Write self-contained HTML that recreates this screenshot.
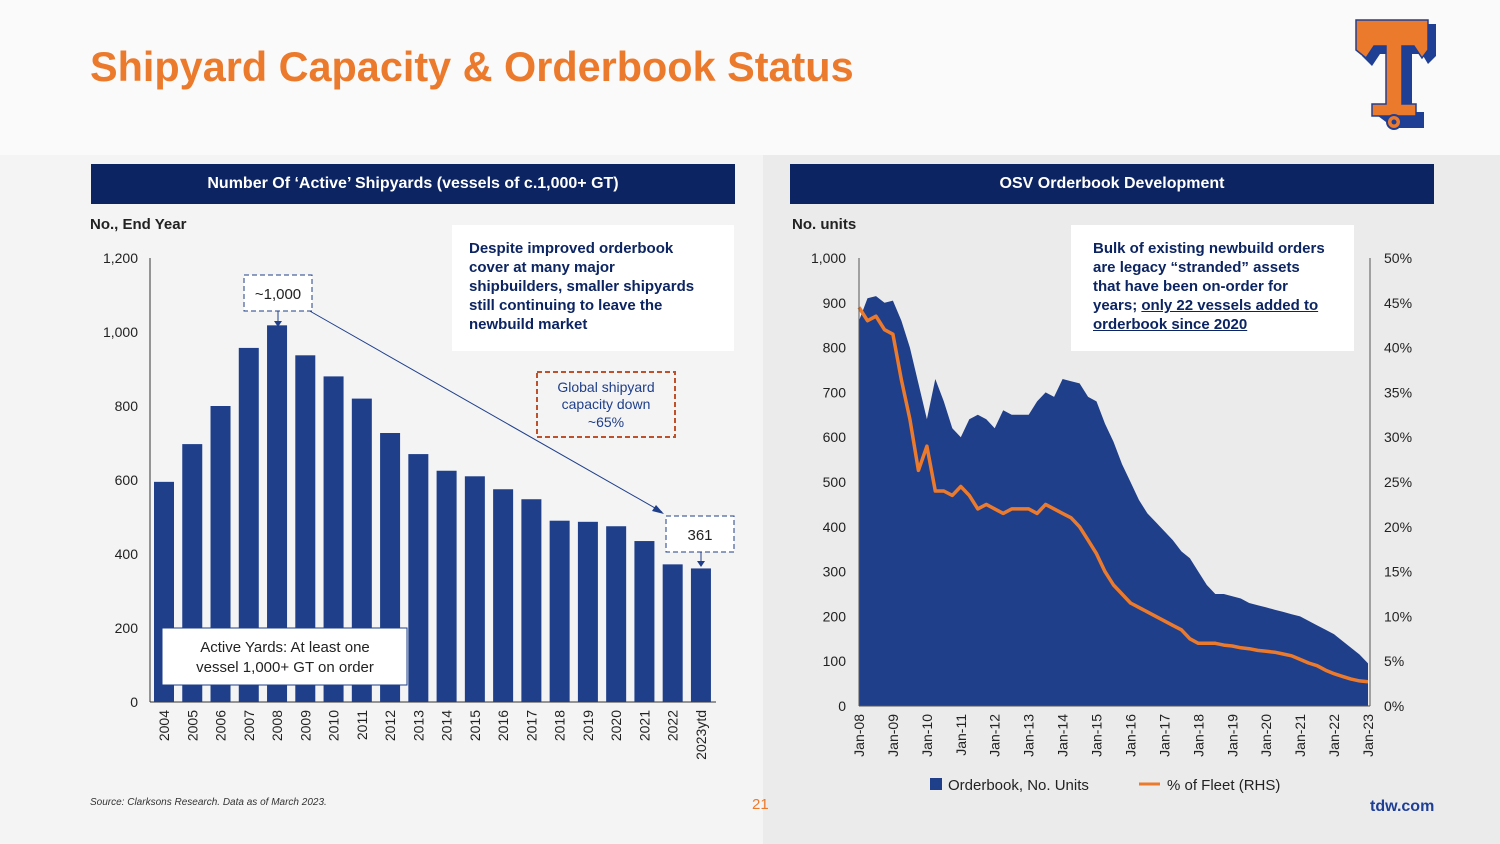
<!DOCTYPE html>
<html><head><meta charset="utf-8"><style>
body{margin:0;width:1500px;height:844px;overflow:hidden;font-family:"Liberation Sans",sans-serif;background:#f4f4f4;position:relative}
.abs{position:absolute}
.hdr{background:#0c2461;color:#fff;font-weight:bold;font-size:16px;text-align:center;line-height:40px;height:40px}
.note{background:#fff;color:#0c2461;font-weight:bold;font-size:15px;line-height:19px;padding:14px 17px;box-sizing:border-box;white-space:nowrap}
</style></head><body>
<div class="abs" style="left:0;top:0;width:1500px;height:155px;background:#fafafa"></div>
<div class="abs" style="left:763px;top:155px;width:737px;height:689px;background:#ebebeb"></div>
<div class="abs" style="left:90px;top:44px;font-size:41.4px;font-weight:bold;color:#ec7a2c">Shipyard Capacity &amp; Orderbook Status</div>
<svg class="abs" style="left:1352px;top:16px" width="90" height="122" viewBox="0 0 90 122">
<path d="M10 8 H84 V40 L76 48 L70 38 H60 V96 H72 V112 H42 V112 L26 100 V96 H38 V38 H28 L20 50 L10 40Z" fill="#1f3f95"/>
<path d="M4 4 H76 V34 L70 42 L62 30 H50 V88 H64 V100 H20 V88 H34 V30 H22 L14 42 L4 34Z" fill="#ec7a2c" stroke="#1f3f95" stroke-width="1.5"/>
<circle cx="42" cy="106" r="7" fill="#ec7a2c" stroke="#1f3f95" stroke-width="2"/><circle cx="42" cy="106" r="2.5" fill="#1f3f95"/>
</svg>
<div class="abs hdr" style="left:91px;top:164px;width:644px">Number Of ‘Active’ Shipyards (vessels of c.1,000+ GT)</div>
<div class="abs hdr" style="left:790px;top:164px;width:644px">OSV Orderbook Development</div>
<div class="abs" style="left:90px;top:216px;font-size:15px;font-weight:bold;color:#222">No., End Year</div>
<div class="abs" style="left:792px;top:216px;font-size:15px;font-weight:bold;color:#222">No. units</div>
<div class="abs note" style="left:452px;top:225px;width:282px;height:126px">Despite improved orderbook<br>cover at many major<br>shipbuilders, smaller shipyards<br>still continuing to leave the<br>newbuild market</div>
<div class="abs note" style="left:1071px;top:225px;width:283px;height:126px;padding-left:22px">Bulk of existing newbuild orders<br>are legacy “stranded” assets<br>that have been on-order for<br>years; <u>only 22 vessels added to</u><br><u>orderbook since 2020</u></div>
<svg class="abs" id="left" style="left:0;top:0" width="760" height="844"></svg>
<svg class="abs" id="right" style="left:760px;top:0" width="740" height="844"></svg>
<div class="abs" style="left:90px;top:797px;font-size:10px;font-style:italic;color:#333">Source: Clarksons Research. Data as of March 2023.</div>
<div class="abs" style="left:752px;top:796px;font-size:15px;color:#ec7a2c">21</div>
<div class="abs" style="left:1370px;top:798px;font-size:16px;font-weight:bold;color:#1f3f95">tdw.com</div>
<script>
const years=["2004","2005","2006","2007","2008","2009","2010","2011","2012","2013","2014","2015","2016","2017","2018","2019","2020","2021","2022","2023ytd"];
const yards=[595,697,800,957,1018,937,880,820,727,670,625,610,575,548,490,487,475,435,372,361];
const leftTicks=[0,200,400,600,800,1000,1200];
const obUnits=[860,910,915,900,905,860,800,720,640,730,680,620,600,640,650,640,620,660,650,650,650,680,700,690,730,725,720,690,680,630,590,540,500,460,430,410,390,370,345,330,300,270,250,250,245,240,230,225,220,215,210,205,200,190,180,170,160,145,130,115,95];
const obPct=[44.5,43,43.5,42,41.5,36.4,32,26.3,29,24,24,23.5,24.5,23.5,22,22.5,22,21.5,22,22,22,21.5,22.5,22,21.5,21,20,18.5,17,15,13.5,12.5,11.5,11,10.5,10,9.5,9,8.5,7.5,7,7,7,6.8,6.7,6.5,6.4,6.2,6.1,6,5.8,5.6,5.2,4.8,4.5,4,3.6,3.3,3,2.8,2.7];
const rightTicks=[0,100,200,300,400,500,600,700,800,900,1000];
const pctTicks=[0,5,10,15,20,25,30,35,40,45,50];
const xLabels=["Jan-08","Jan-09","Jan-10","Jan-11","Jan-12","Jan-13","Jan-14","Jan-15","Jan-16","Jan-17","Jan-18","Jan-19","Jan-20","Jan-21","Jan-22","Jan-23"];
const NS="http://www.w3.org/2000/svg";
function mk(p,t,a,txt){const e=document.createElementNS(NS,t);for(const k in a)e.setAttribute(k,a[k]);if(txt!=null)e.textContent=txt;p.appendChild(e);return e;}
const L=document.getElementById('left');
const ly=v=>702-v*0.37, lx=i=>164+i*28.26;
mk(L,'line',{x1:150,y1:258,x2:150,y2:702,stroke:'#333'});
mk(L,'line',{x1:150,y1:702,x2:716,y2:702,stroke:'#333'});
leftTicks.forEach(t=>{const e=mk(L,'text',{x:138,y:ly(t)+5,'text-anchor':'end','font-size':14,fill:'#222'},t.toLocaleString('en-US'));});
yards.forEach((v,i)=>{const r=mk(L,'rect',{x:lx(i)-10,y:ly(v),width:20,height:v*0.37,fill:'#1f3f8a'});
const t=mk(L,'text',{transform:`translate(${lx(i)+5},${710}) rotate(-90)`,'text-anchor':'end','font-size':14,fill:'#222'},years[i]);});
mk(L,'line',{x1:308,y1:310,x2:662,y2:512,stroke:'#1f3f8a','stroke-width':1});
mk(L,'polygon',{points:'664,514 652,511 656,505',fill:'#1f3f8a'});
mk(L,'rect',{x:244,y:275,width:68,height:36,fill:'#fff',stroke:'#1f3f8a','stroke-dasharray':'5,3'});
mk(L,'text',{x:278,y:299,'text-anchor':'middle','font-size':15,fill:'#222'},'~1,000');
mk(L,'line',{x1:278,y1:311,x2:278,y2:322,stroke:'#1f3f8a'});mk(L,'polygon',{points:'274,321 282,321 278,327',fill:'#1f3f8a'});
mk(L,'rect',{x:666,y:516,width:68,height:36,fill:'#fff',stroke:'#1f3f8a','stroke-dasharray':'5,3'});
mk(L,'text',{x:700,y:540,'text-anchor':'middle','font-size':15,fill:'#222'},'361');
mk(L,'line',{x1:701,y1:552,x2:701,y2:562,stroke:'#1f3f8a'});mk(L,'polygon',{points:'697,561 705,561 701,567',fill:'#1f3f8a'});
mk(L,'rect',{x:537,y:372,width:138,height:65,fill:'#f4f4f4',stroke:'#c0502a','stroke-width':2,'stroke-dasharray':'5,3'});
[['Global shipyard',392],['capacity down',409],['~65%',427]].forEach(a=>mk(L,'text',{x:606,y:a[1],'text-anchor':'middle','font-size':14,fill:'#1f3f8a'},a[0]));
mk(L,'rect',{x:162,y:628,width:245,height:57,fill:'#fff',stroke:'#1f3f8a'});
mk(L,'text',{x:285,y:652,'text-anchor':'middle','font-size':15,fill:'#222'},'Active Yards: At least one');
mk(L,'text',{x:285,y:672,'text-anchor':'middle','font-size':15,fill:'#222'},'vessel 1,000+ GT on order');
const R=document.getElementById('right');
const X0=99, X1=608, Y0=706;
const rx=i=>X0+(X1-X0)*i/(obUnits.length-1), rxp=i=>X0+(X1-X0)*i/(obPct.length-1), ry=v=>Y0-v*0.448, rp=p=>Y0-p*8.96;
let d='M'+X0+','+Y0;obUnits.forEach((v,i)=>d+=' L'+rx(i).toFixed(1)+','+ry(v).toFixed(1));d+=' L'+X1+','+Y0+'Z';
const a=mk(R,'path',{d:d,fill:'#1f3f8a'});
let d2='';obPct.forEach((v,i)=>d2+=(i?' L':'M')+rxp(i).toFixed(1)+','+rp(v).toFixed(1));
const ln=mk(R,'path',{d:d2,fill:'none',stroke:'#ec7a2c','stroke-width':3.5,'stroke-linejoin':'round'});
mk(R,'line',{x1:X0,y1:258,x2:X0,y2:Y0,stroke:'#555'});
mk(R,'line',{x1:X0,y1:Y0,x2:X1+2,y2:Y0,stroke:'#555'});
mk(R,'line',{x1:X1+2,y1:258,x2:X1+2,y2:Y0,stroke:'#555'});
rightTicks.forEach(t=>{const e=mk(R,'text',{x:86,y:ry(t)+5,'text-anchor':'end','font-size':14,fill:'#222'},t.toLocaleString('en-US'));});
pctTicks.forEach(t=>{const e=mk(R,'text',{x:624,y:rp(t)+5,'font-size':14,fill:'#222'},t+'%');});
xLabels.forEach((s,i)=>{const t=mk(R,'text',{transform:`translate(${X0+(X1-X0)*i/15+5},${714}) rotate(-90)`,'text-anchor':'end','font-size':14,fill:'#222'},s);});
const g=mk(R,'g',{});
mk(g,'rect',{x:170,y:778,width:12,height:12,fill:'#1f3f8a'});
mk(g,'text',{x:188,y:790,'font-size':15,fill:'#222'},'Orderbook, No. Units');
mk(g,'line',{x1:379,y1:784,x2:400,y2:784,stroke:'#ec7a2c','stroke-width':3});
mk(g,'text',{x:407,y:790,'font-size':15,fill:'#222'},'% of Fleet (RHS)');
</script>
</body></html>
